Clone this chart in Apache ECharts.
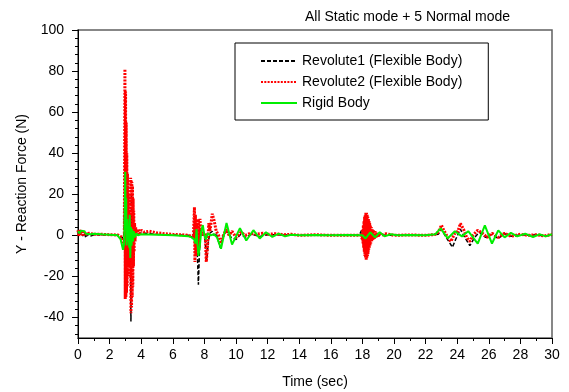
<!DOCTYPE html>
<html>
<head>
<meta charset="utf-8">
<script src="https://cdn.jsdelivr.net/npm/echarts@6/dist/echarts.min.js"></script>
<style>
  html, body { margin: 0; padding: 0; background: #fff; }
  #chart { width: 569px; height: 392px; }
</style>
</head>
<body>
<div id="chart"></div>
<script>
// [time (sec), force (N)]
const revolute1 = [
  [0, 1.5], [0.1, -0.5], [0.2, 1.8], [0.3, -0.3], [0.4, 1.2], [0.5, -1.2], [0.6, 0.5], [0.8, -0.3],
  [1.0, 0.3], [1.5, 0.2], [2.0, 0.3], [2.5, 0.1], [2.8, -1], [2.9, -3], [2.95, 20], [2.98, 50],
  [3.0, -25], [3.04, 10], [3.08, -15], [3.12, 8], [3.16, -6], [3.2, 5], [3.25, -8], [3.3, 6],
  [3.35, -42], [3.38, 20], [3.42, -10], [3.46, 8], [3.5, -3], [3.55, 3], [3.6, -1], [3.7, 2],
  [3.8, 0.5], [4.0, 1.2], [4.5, 0.8], [5.0, 0.5], [6.0, 0.2], [7.0, 0], [7.3, -1], [7.4, 6],
  [7.45, -6], [7.5, 3], [7.55, -8], [7.62, -24], [7.7, -5], [7.75, 3], [7.85, 0], [8.0, 1],
  [8.15, -12], [8.25, -3], [8.35, 1], [8.5, 2], [8.6, 0], [8.75, 1], [9.0, -6], [9.2, 0],
  [9.4, 2], [9.7, -1], [10.0, -2], [10.3, 0.5], [10.6, -1], [11.0, 0.5], [11.5, -0.5], [12.0, 0.3],
  [13.0, 0.2], [14.0, 0], [15.0, 0.1], [16.0, 0], [17.0, 0.1], [17.8, 0], [17.95, 2.5], [18.05, -1],
  [18.2, 1], [18.4, -1], [18.6, 0.5], [19.0, 0.2], [20.0, 0], [22.0, 0], [22.8, 0.5], [23.0, 3],
  [23.3, -1], [23.7, -5.8], [23.9, -2], [24.2, 3], [24.4, 0], [24.8, -5], [25.1, -1], [25.4, 1.5],
  [25.8, -1], [26.2, 0.5], [26.6, -1.5], [27.0, 0.8], [27.4, -0.5], [28.0, 0.3], [28.5, 0],
  [29.0, 0.3], [29.5, -0.3], [30.0, 0]
];

const revolute2 = [
  [0, 2.5], [0.05, -0.5], [0.1, 2.8], [0.15, 0.5], [0.2, 2.5], [0.3, 0], [0.4, 1.8], [0.5, 0.5],
  [0.7, 1.0], [1.0, 0.5], [1.5, 0.5], [2.0, 0.3], [2.5, 0.2], [2.8, -1], [2.93, -5], [2.95, 40],
  [2.97, 81], [2.99, -31], [3.01, 70], [3.03, -30], [3.05, 55], [3.07, -28], [3.09, 40], [3.11, -25],
  [3.13, 30], [3.15, -20], [3.17, 20], [3.19, -15], [3.21, 12], [3.23, -10], [3.25, 8], [3.27, -8],
  [3.29, 6], [3.31, -20], [3.33, 28], [3.35, -38], [3.37, 27], [3.39, -35], [3.41, 26], [3.43, -30],
  [3.45, 24], [3.47, -25], [3.49, 18], [3.51, -15], [3.53, 12], [3.55, -8], [3.58, 6], [3.61, -3],
  [3.65, 4], [3.7, 0], [3.8, 3], [3.9, 1], [4.0, 2.5], [4.2, 1.5],
  [4.5, 2], [5.0, 1.2], [5.5, 0.8], [6.0, 0.5], [6.5, 0.3], [7.0, 0], [7.3, -1], [7.37, 13.7],
  [7.4, -13], [7.43, 10], [7.46, -10], [7.5, 6], [7.55, -5], [7.62, 8], [7.68, -6], [7.72, 8],
  [7.78, 0], [7.85, 3], [7.95, 0], [8.05, 1], [8.12, -13], [8.2, -5], [8.28, 6], [8.35, 2],
  [8.5, 10.5], [8.62, 7], [8.75, 2], [8.9, 0], [9.05, -4], [9.2, 0], [9.4, 3], [9.55, 0],
  [9.75, 2], [10.0, -1], [10.3, 1.5], [10.6, 0], [10.9, 1], [11.3, 0.5], [11.7, 1], [12.0, 0.5],
  [12.5, 0.8], [13.0, 0.3], [13.5, 0.5], [14.0, 0], [15.0, 0.3], [16.0, 0], [17.0, 0], [17.9, 0],
  [18.0, -2], [18.02, 3], [18.04, -4], [18.06, 5], [18.08, -6], [18.1, 7], [18.12, -8], [18.14, 9],
  [18.16, -10], [18.18, 10], [18.2, -11], [18.22, 11], [18.24, -12], [18.26, 11], [18.28, -11], [18.3, 10],
  [18.32, -10], [18.34, 9], [18.36, -9], [18.38, 8], [18.4, -7], [18.42, 7], [18.44, -6], [18.46, 6],
  [18.48, -5], [18.5, 5], [18.53, -4], [18.56, 4], [18.59, -3], [18.62, 3], [18.66, -2.5], [18.7, 2.5],
  [18.75, -2], [18.8, 2], [18.86, -1], [18.92, 1.5], [19.0, -0.5], [19.1, 1], [19.2, 0], [19.5, 0.8],
  [20.0, 0], [21.0, 0.2],
  [22.0, 0], [22.7, 0.5], [22.9, 3], [23.0, 5], [23.15, 2.5], [23.4, -1], [23.6, -3], [23.85, 1],
  [24.05, 2], [24.2, 5.8], [24.4, 3], [24.6, -1], [24.8, -3], [25.0, 0], [25.3, 2.5], [25.6, 1],
  [25.9, -1], [26.2, 1], [26.6, -1], [27.0, 1], [27.4, -0.5], [28.0, 0.5], [28.5, 0], [29.0, 0.3],
  [29.5, -0.3], [30.0, 0.5]
];

const rigidBody = [
  [0, 2], [0.1, 1], [0.2, 2.3], [0.3, 1.5], [0.4, 2], [0.5, 0.8], [0.6, 1.2], [0.8, 0.5],
  [1.0, 0.8], [1.5, 0.5], [2.0, 0.3], [2.5, 0], [2.7, -2], [2.85, -7], [2.92, -4], [2.96, 10],
  [2.99, 31], [3.02, 5], [3.05, 18], [3.08, -5], [3.12, 8], [3.16, -3], [3.2, 4], [3.24, -6],
  [3.27, 10], [3.31, -11], [3.35, 4], [3.39, -5], [3.43, 3], [3.48, -3], [3.53, 2], [3.6, -1],
  [3.7, 1], [3.8, 0], [4.0, 0.5], [5.0, 0.3], [6.0, 0], [7.0, -0.5], [7.2, -1], [7.35, -2],
  [7.45, -4], [7.5, 3], [7.55, -3], [7.62, -10], [7.7, -6], [7.8, 2], [7.9, 5], [8.0, 0],
  [8.1, -2], [8.2, 1], [8.4, 0], [8.6, 0.5], [8.8, -1], [9.05, -6.5], [9.4, 6], [9.75, -4.5],
  [10.25, 3.5], [10.65, -2.5], [11.1, 2.5], [11.5, -1.5], [11.9, 1.5], [12.3, -0.8], [12.7, 0.8],
  [13.1, -0.5], [13.5, 0.3], [14.0, 0], [15.0, 0.2], [16.0, 0], [17.0, 0.2], [18.0, 0], [18.2, -1.5],
  [18.5, 1.5], [18.8, -1], [19.1, 1.5], [19.4, -0.5], [19.8, 0.5], [20.2, 0], [21.0, 0.2], [22.0, 0],
  [22.6, 0.5], [22.95, 3.4], [23.4, -1.5], [23.85, 2], [24.3, -0.5], [24.7, 2], [25.3, -4],
  [25.75, 4.9], [26.2, -4], [26.6, 2.4], [27.0, -1], [27.4, 1.2], [27.8, -0.5], [28.3, 0.8],
  [28.8, -0.8], [29.2, 0.5], [29.6, -0.5], [30.0, 0.5]
];

const majorYTicks = [-40, -20, 0, 20, 40, 60, 80, 100];
const minorYTicks = [-48, -44, -36, -32, -28, -24, -16, -12, -8, -4, 4, 8, 12, 16,
  24, 28, 32, 36, 44, 48, 52, 56, 64, 68, 72, 76, 84, 88, 92, 96];

const font = 'Liberation Sans, Arial, sans-serif';

const chart = echarts.init(document.getElementById('chart'));

chart.setOption({
  animation: false,
  backgroundColor: '#fff',
  textStyle: { fontFamily: font },
  title: {
    text: 'All Static mode + 5 Normal mode',
    right: 59,
    top: 10,
    padding: 0,
    textStyle: { fontSize: 14, fontWeight: 'normal', color: '#000', fontFamily: font }
  },
  legend: {
    orient: 'vertical',
    left: 235,
    top: 43,
    padding: [11, 26, 10, 25],
    itemWidth: 36,
    itemHeight: 14,
    itemGap: 7,
    borderColor: '#000',
    borderWidth: 1,
    itemStyle: { opacity: 0 },
    textStyle: { fontSize: 14, color: '#000', fontFamily: font }
  },
  grid: {
    left: 78, right: 17, top: 30, bottom: 54,
    show: true,
    borderColor: '#606060',
    borderWidth: 1.5,
    outerBoundsMode: 'none'
  },
  xAxis: {
    type: 'value',
    min: 0, max: 30, interval: 2,
    name: 'Time (sec)',
    nameLocation: 'middle',
    nameGap: 37,
    nameTextStyle: { fontSize: 14, color: '#000', fontFamily: font },
    axisLine: { onZero: false, lineStyle: { color: '#000', width: 1 } },
    axisTick: { length: 6, lineStyle: { color: '#000' } },
    minorTick: { show: true, splitNumber: 2, length: 3, lineStyle: { color: '#000' } },
    axisLabel: { fontSize: 14, color: '#000', margin: 10, fontFamily: font },
    splitLine: { show: false }
  },
  yAxis: [{
    type: 'value',
    min: -50, max: 100, interval: 10,
    name: 'Y - Reaction Force (N)',
    nameLocation: 'middle',
    nameGap: 49,
    nameTextStyle: { fontSize: 14, color: '#000', fontFamily: font },
    axisLine: { show: true, onZero: false, lineStyle: { color: '#000', width: 1 } },
    axisTick: { show: true, length: 6, customValues: majorYTicks, lineStyle: { color: '#000' } },
    axisLabel: { fontSize: 14, color: '#000', margin: 14, customValues: majorYTicks, fontFamily: font },
    splitLine: { show: false }
  }, {
    type: 'value',
    position: 'left',
    min: -50, max: 100, interval: 10,
    axisLine: { show: false },
    axisTick: { show: true, length: 3, customValues: minorYTicks, lineStyle: { color: '#000' } },
    axisLabel: { show: false },
    splitLine: { show: false }
  }],
  series: [{
    name: 'Revolute1 (Flexible Body)',
    type: 'line',
    data: revolute1,
    showSymbol: false,
    symbol: 'none',
    color: '#000',
    lineStyle: { color: '#000', width: 1.5, type: [4, 2] }
  }, {
    name: 'Revolute2 (Flexible Body)',
    type: 'line',
    data: revolute2,
    showSymbol: false,
    symbol: 'none',
    color: '#ff0000',
    lineStyle: { color: '#ff0000', width: 3, type: [2, 1.3] }
  }, {
    name: 'Rigid Body',
    type: 'line',
    data: rigidBody,
    showSymbol: false,
    symbol: 'none',
    color: '#00ee00',
    lineStyle: { color: '#00ee00', width: 2 }
  }]
});
</script>
</body>
</html>
